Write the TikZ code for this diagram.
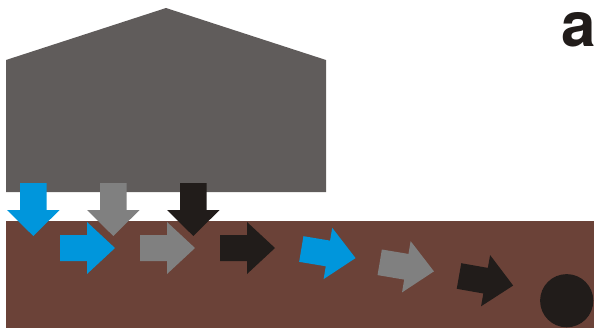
\documentclass[tikz,border=0pt]{standalone}
\usepackage{fontspec}
\setmainfont{TeX Gyre Heros}
\definecolor{housegray}{RGB}{96,92,91}
\definecolor{soil}{RGB}{107,66,56}
\definecolor{arblue}{RGB}{0,150,220}
\definecolor{argray}{RGB}{128,128,128}
\definecolor{arblack}{RGB}{33,28,26}
\tikzset{
  pics/rarrow/.style={code={
    \fill[#1] (0,-13) -- (27,-13) -- (27,-26) -- (55,0) -- (27,26) -- (27,13) -- (0,13) -- cycle;}},
  pics/darrow/.style={code={
    \fill[#1] (-13.3,0) -- (13.3,0) -- (13.3,27) -- (26.3,27) -- (0,53) -- (-26.3,27) -- (-13.3,27) -- cycle;}},
}
\begin{document}
\begin{tikzpicture}[x=1pt,y=-1pt]
\useasboundingbox (0,0) rectangle (598,335);
% house
\fill[housegray] (6,60) -- (166,8) -- (326,60) -- (326,192) -- (6,192) -- cycle;
% soil
\fill[soil] (6,221) rectangle (593.5,327.5);
% down arrows
\pic at (33.3,183) {darrow=arblue};
\pic at (113.3,183) {darrow=argray};
\pic at (193.3,183) {darrow=arblack};
% horizontal arrows
\pic at (60,248) {rarrow=arblue};
\pic at (140,248) {rarrow=argray};
\pic at (220,248) {rarrow=arblack};
% tilted arrows
\pic[rotate=-9.5] at (301.3,249) {rarrow=arblue};
\pic[rotate=-9.5] at (379.7,262.3) {rarrow=argray};
\pic[rotate=-10] at (459,276) {rarrow=arblack};
% particle
\fill[arblack] (566.7,300.7) circle (26.6);
% label
\node[anchor=base east, inner sep=0pt, font=\bfseries\fontsize{62}{62}\selectfont, text=arblack] (lbl) at (596,46) {a};
\end{tikzpicture}
\end{document}
